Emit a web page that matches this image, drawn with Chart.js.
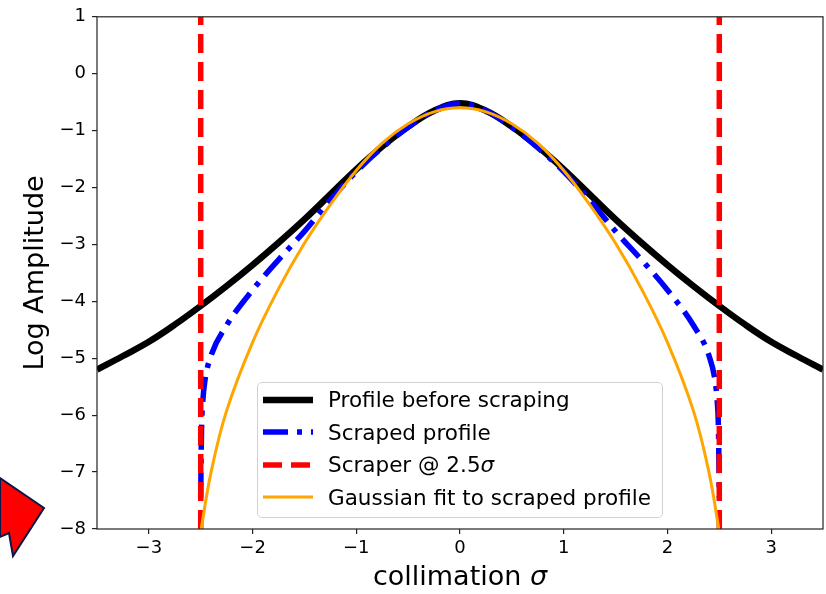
<!DOCTYPE html>
<html>
<head>
<meta charset="utf-8">
<script src="https://cdn.jsdelivr.net/npm/chart.js@4.4.0/dist/chart.umd.min.js"></script>
<style>
html, body { margin: 0; padding: 0; background: #fff; }
#wrap { position: relative; width: 826px; height: 594px; }
#legend {
    position: absolute; left: 257px; top: 382px; width: 404px; height: 134px;
    border: 1px solid #d2d2d2; border-radius: 5px; background: rgba(255,255,255,0.8);
    font-family: 'DejaVu Sans'; font-size: 21.5px; color: #000;
}
.row { position: absolute; left: 0; height: 32px; display: flex; align-items: center; white-space: nowrap; }
.row svg { margin-left: 5px; margin-right: 15px; }
</style>
</head>
<body>
<div id="wrap">
    <canvas id="chart" width="826" height="594"></canvas>
    <div id="legend"></div>
</div>
<script>
// --- data ---
const profileX = [-3.5, -3.25, -3, -2.75, -2.5, -2.25, -2, -1.75, -1.5, -1.25, -1, -0.75, -0.5, -0.25, 0,
                  0.25, 0.5, 0.75, 1, 1.25, 1.5, 1.75, 2, 2.25, 2.5, 2.75, 3, 3.25, 3.5];
const profileY = [-5.20, -4.96, -4.71, -4.41, -4.08, -3.73, -3.36, -2.97, -2.56, -2.12, -1.68, -1.28, -0.93, -0.65, -0.52,
                  -0.65, -0.93, -1.28, -1.68, -2.12, -2.56, -2.97, -3.36, -3.73, -4.08, -4.41, -4.71, -4.96, -5.20];

const scrapedX = [-2.5, -2.495, -2.49, -2.48, -2.46, -2.4, -2.25, -2, -1.75, -1.5, -1.25, -1, -0.75, -0.5, -0.25, 0,
                  0.25, 0.5, 0.75, 1, 1.25, 1.5, 1.75, 2, 2.25, 2.4, 2.46, 2.48, 2.49, 2.495, 2.5];
const scrapedY = [-7.45, -6.6, -6.1, -5.75, -5.4, -4.95, -4.42, -3.80, -3.27, -2.77, -2.22, -1.72, -1.30, -0.94, -0.65, -0.52,
                  -0.65, -0.94, -1.30, -1.72, -2.22, -2.77, -3.27, -3.80, -4.42, -4.95, -5.4, -5.75, -6.1, -6.6, -7.45];

const fitX = [-2.5, -2.4, -2.25, -2, -1.75, -1.5, -1.25, -1, -0.75, -0.5, -0.25, 0,
              0.25, 0.5, 0.75, 1, 1.25, 1.5, 1.75, 2, 2.25, 2.4, 2.5];
const fitY = [-8.05, -7.0, -5.92, -4.72, -3.78, -2.98, -2.30, -1.70, -1.22, -0.88, -0.67, -0.60,
              -0.67, -0.88, -1.22, -1.70, -2.30, -2.98, -3.78, -4.72, -5.92, -7.0, -8.05];

const scraperX = [-2.5, 2.5];
const xTicks = [-3, -2, -1, 0, 1, 2, 3];
const yTicks = [1, 0, -1, -2, -3, -4, -5, -6, -7, -8];

const labels = ['Profile before scraping', 'Scraped profile', 'Scraper @ 2.5σ', 'Gaussian fit to scraped profile'];

const FONT = 'DejaVu Sans';
const toPts = (xs, ys) => xs.map((x, i) => ({ x: x, y: ys[i] }));
const minus = v => String(v).replace('-', '\u2212');

const scraperPts = [];
scraperX.forEach((x, i) => {
    if (i > 0) scraperPts.push({ x: 0, y: null });
    scraperPts.push({ x: x, y: yTicks[yTicks.length - 1] }, { x: x, y: yTicks[0] });
});

// outer frame (all four spines) + x title with italic sigma + arrow
const framePlugin = {
    id: 'frame',
    afterDraw(chart) {
        const { ctx, chartArea: a } = chart;
        ctx.save();
        ctx.strokeStyle = '#222';
        ctx.lineWidth = 1.2;
        ctx.strokeRect(a.left, a.top, a.right - a.left, a.bottom - a.top);

        // x axis title
        ctx.fillStyle = '#000';
        ctx.textBaseline = 'middle';
        ctx.font = '27px "' + FONT + '"';
        const t1 = 'collimation ';
        const w1 = ctx.measureText(t1).width;
        ctx.font = 'italic 27px "' + FONT + '"';
        const w2 = ctx.measureText('σ').width;
        let x0 = (a.left + a.right) / 2 - (w1 + w2) / 2;
        ctx.font = '27px "' + FONT + '"';
        ctx.fillText(t1, x0, 578);
        ctx.font = 'italic 27px "' + FONT + '"';
        ctx.fillText('σ', x0 + w1, 578);

        // red arrow in the corner
        ctx.beginPath();
        ctx.moveTo(0, 478);
        ctx.lineTo(44, 508);
        ctx.lineTo(13, 556);
        ctx.lineTo(9, 533);
        ctx.lineTo(0, 537);
        ctx.closePath();
        ctx.fillStyle = '#ff0000';
        ctx.fill();
        ctx.strokeStyle = '#0b1547';
        ctx.lineWidth = 2;
        ctx.stroke();
        ctx.restore();
    }
};

const styles = [
    { borderColor: '#000000', borderWidth: 6.5, borderDash: [] },
    { borderColor: '#0000ff', borderWidth: 5.5, borderDash: [25, 9, 5, 9] },
    { borderColor: '#ff0000', borderWidth: 5.5, borderDash: [19, 9] },
    { borderColor: '#ffa500', borderWidth: 3, borderDash: [] }
];

const chart = new Chart(document.getElementById('chart'), {
    type: 'scatter',
    data: {
        datasets: [
            { data: toPts(profileX, profileY), ...styles[0], order: 4, tension: 0.4 },
            { data: toPts(scrapedX, scrapedY), ...styles[1], order: 3, cubicInterpolationMode: 'monotone' },
            { data: scraperPts, ...styles[2], order: 2, tension: 0 },
            { data: toPts(fitX, fitY), ...styles[3], order: 1, tension: 0.4 }
        ]
    },
    options: {
        responsive: false,
        animation: false,
        layout: { padding: { top: 13, right: 3, left: 0, bottom: 0 } },
        elements: {
            point: { radius: 0, hoverRadius: 0 },
            line: { fill: false }
        },
        datasets: { scatter: { showLine: true, clip: 0, spanGaps: false } },
        plugins: { legend: { display: false }, tooltip: { enabled: false } },
        scales: {
            x: {
                type: 'linear', min: -3.5, max: 3.5,
                afterBuildTicks: s => { s.ticks = xTicks.map(v => ({ value: v })); },
                afterFit: s => { s.height = 65; },
                border: { display: false },
                grid: { drawOnChartArea: false, drawTicks: true, tickLength: 5, color: '#222', lineWidth: 1.2 },
                ticks: { color: '#000', padding: 4, maxRotation: 0, font: { family: FONT, size: 18 }, callback: minus }
            },
            y: {
                type: 'linear', min: -8, max: 1,
                afterBuildTicks: s => { s.ticks = yTicks.map(v => ({ value: v })); },
                afterFit: s => { s.width = 97; },
                border: { display: false },
                grid: { drawOnChartArea: false, drawTicks: true, tickLength: 5, color: '#222', lineWidth: 1.2 },
                ticks: { color: '#000', padding: 6, font: { family: FONT, size: 18 }, callback: minus },
                title: { display: true, text: 'Log Amplitude', color: '#000', font: { family: FONT, size: 27 }, padding: { top: 20, bottom: 0 } }
            }
        }
    },
    plugins: [framePlugin]
});

// legend built from the same dataset styles
const legend = document.getElementById('legend');
const rowTops = [0.5, 33, 65.5, 98];
labels.forEach((txt, i) => {
    const st = styles[i];
    const row = document.createElement('div');
    row.className = 'row';
    row.style.top = rowTops[i] + 'px';
    const dash = st.borderDash.length ? st.borderDash.join(' ') : 'none';
    row.innerHTML = `<svg width="50" height="20"><line x1="0" y1="10" x2="50" y2="10" stroke="${st.borderColor}" stroke-width="${st.borderWidth}" stroke-dasharray="${dash}"/></svg>`
        + `<span>${txt.replace('σ', '<i>σ</i>')}</span>`;
    legend.appendChild(row);
});
</script>
</body>
</html>
